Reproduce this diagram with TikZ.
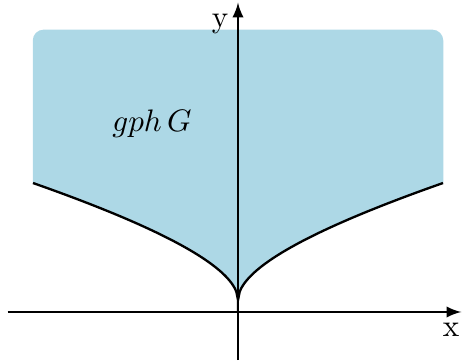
\documentclass[tikz,border=0pt]{standalone}
\usetikzlibrary{arrows,calc}
\usepackage{tkz-euclide}
\definecolor{GphClr}{rgb}{0.6784,0.8471,0.9020}

\begin{document}
\begin{tikzpicture}[scale=.0113]
\useasboundingbox (-238,-51) rectangle (225,312);

\tkzDefPoints{0/0/O,-230/0/A,223/0/B,0/-48/C,0/309/D}
\tkzDefPoints{-205/129/L,-205/282/P,205/282/Q,205/129/R}

% the set above the curve
\fill[GphClr] (L) [rounded corners=3.5pt] -- (P) -- (Q) [sharp corners] -- (R)
  -- plot[domain=205:0,samples=120] (\x,{12+6.28*sqrt(\x)+0.132*\x})
  -- plot[domain=0:205,samples=120] (-\x,{12+6.28*sqrt(\x)+0.132*\x}) -- cycle;

\draw[line width=0.75pt,color=black] plot[domain=205:0,samples=120] (-\x,{12+6.28*sqrt(\x)+0.132*\x})
  -- plot[domain=0:205,samples=120] (\x,{12+6.28*sqrt(\x)+0.132*\x});

\draw[line width=0.65pt,-latex] (A) -- (B);
\draw[line width=0.65pt,-latex] (C) -- (D);

\node[anchor=base] (x) at (213,-25) {x};
\node[anchor=base] (y) at (-18,284) {y};
\node[anchor=base] (gph) at (-86,180) {$gph\,G$};

\end{tikzpicture}
\end{document}
